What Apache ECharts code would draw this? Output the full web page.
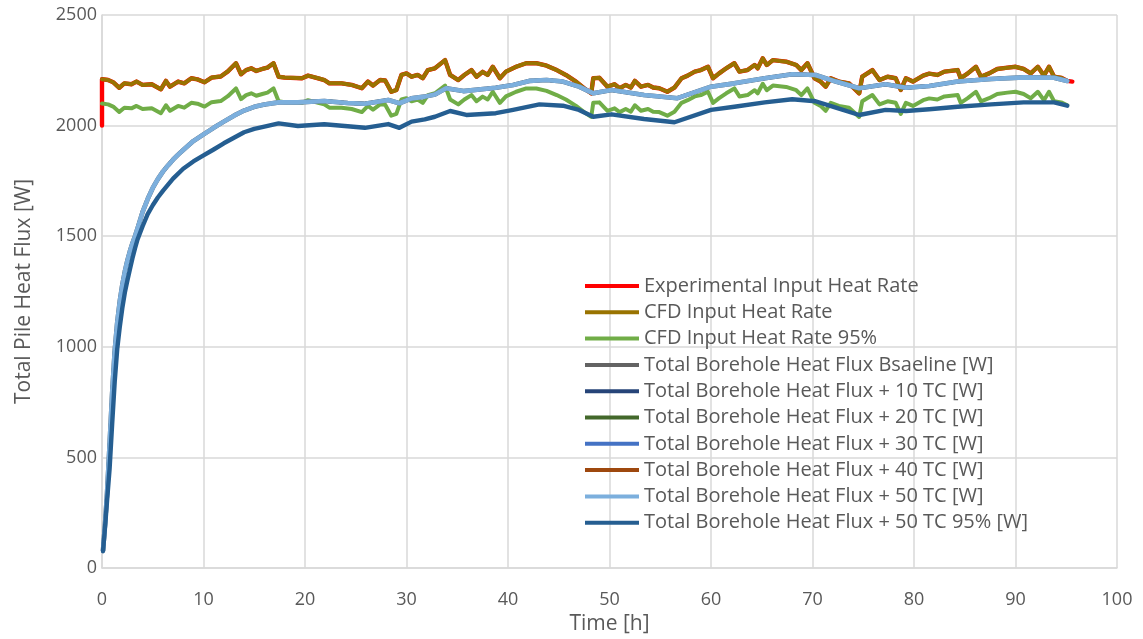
<!DOCTYPE html>
<html><head><meta charset="utf-8">
<script src="https://cdn.jsdelivr.net/npm/echarts@6/dist/echarts.min.js"></script>
<style>html,body{margin:0;padding:0;background:#fff}#c{width:1143px;height:639px}</style>
</head><body><div id="c"></div>
<script>
// ---- data ----
const inputTime = [0.0,0.6,1.1,1.7,2.2,2.9,3.4,4.0,4.9,5.8,6.3,6.7,7.5,8.1,8.8,9.4,10.1,10.8,11.7,12.4,13.2,13.7,14.2,14.7,15.2,15.8,16.3,16.9,17.4,18.0,19.7,20.3,21.3,21.9,22.4,23.6,24.6,25.6,26.2,26.7,27.4,27.9,28.5,29.0,29.5,30.0,30.5,31.1,31.6,32.1,32.8,33.8,34.3,35.1,35.7,36.4,36.9,37.5,38.0,38.5,39.2,39.8,40.8,41.8,42.8,43.8,44.8,45.7,46.7,47.5,48.2,48.4,49.0,49.8,50.5,51.0,51.6,52.1,52.5,53.1,53.8,54.3,54.9,55.7,56.4,57.1,57.7,58.4,59.0,59.7,60.2,60.8,61.5,62.3,62.8,63.6,64.3,64.6,65.1,65.5,66.1,67.4,68.4,68.9,69.5,70.2,70.8,71.3,71.8,72.6,73.6,74.6,74.9,75.9,76.6,77.4,78.2,78.7,79.2,79.9,80.9,81.5,82.3,83.0,84.3,84.6,85.3,86.1,86.6,87.4,88.2,89.2,90.0,90.8,91.5,92.2,92.8,93.3,93.8,94.5,95.1];
const cfdInputRate = [2210,2206,2196,2171,2191,2187,2199,2184,2187,2164,2202,2176,2199,2191,2214,2209,2196,2217,2222,2245,2282,2232,2251,2259,2247,2256,2262,2282,2221,2217,2214,2226,2214,2206,2191,2191,2184,2169,2199,2181,2206,2204,2153,2161,2229,2236,2221,2229,2214,2251,2259,2296,2229,2206,2229,2251,2221,2243,2229,2266,2214,2244,2266,2282,2282,2271,2251,2229,2199,2169,2146,2214,2216,2176,2187,2169,2184,2172,2202,2176,2184,2172,2169,2153,2172,2214,2226,2244,2251,2266,2214,2236,2259,2282,2244,2251,2274,2259,2304,2274,2296,2289,2274,2251,2282,2214,2199,2176,2214,2199,2191,2146,2221,2251,2206,2221,2214,2161,2214,2199,2226,2235,2229,2244,2251,2214,2236,2266,2221,2236,2256,2262,2266,2256,2236,2266,2226,2266,2221,2216,2202];
const cfdInputRate95 = [2100,2096,2086,2062,2081,2078,2089,2075,2078,2056,2092,2067,2089,2081,2103,2099,2086,2106,2111,2133,2168,2120,2138,2146,2135,2143,2149,2168,2110,2106,2103,2115,2103,2096,2081,2081,2075,2061,2089,2072,2096,2094,2045,2053,2118,2124,2110,2118,2103,2138,2146,2181,2118,2096,2118,2138,2110,2131,2118,2153,2103,2132,2153,2168,2168,2157,2138,2118,2089,2061,2039,2103,2105,2067,2078,2061,2075,2063,2092,2067,2075,2063,2061,2045,2063,2103,2115,2132,2138,2153,2103,2124,2146,2168,2132,2138,2160,2146,2189,2160,2181,2175,2160,2138,2168,2103,2089,2067,2103,2089,2081,2039,2110,2138,2096,2110,2103,2053,2103,2089,2115,2123,2118,2132,2138,2103,2124,2153,2110,2124,2143,2149,2153,2143,2124,2153,2115,2153,2110,2105,2092];
// experimental input: same trace plus a start value and a slightly later end
const expStart = [0.0, 2000];
const expEnd = [95.6, 2199];

const fluxTime = [0.1,0.3,0.5,0.75,1.0,1.25,1.5,1.75,2.0,2.25,2.5,2.75,3.0,3.25,3.5,4.0,4.5,5.0,5.5,6.0,6.5,7.0,7.5,8.0,9.0,10.0,11.0,12.0,13.0,14.0,15.0,16.0,17.4,19.3,21.9,24.2,25.9,28.2,29.3,30.5,31.8,32.8,33.9,35.6,38.8,40.5,42.1,43.8,45.4,47.0,48.4,50.2,53.4,56.7,60.0,62.3,65.3,68.0,70.3,72.3,74.6,77.2,79.2,81.5,84.3,87.6,90.8,93.8,95.1];
const fluxTC = [80,200,340,560,790,980,1110,1205,1280,1340,1390,1432,1468,1500,1535,1610,1668,1718,1758,1792,1820,1846,1869,1890,1930,1960,1990,2018,2045,2068,2085,2095,2105,2105,2111,2102,2099,2116,2101,2123,2131,2141,2169,2156,2171,2184,2202,2206,2199,2176,2146,2161,2138,2124,2176,2191,2214,2232,2229,2199,2169,2187,2171,2179,2199,2211,2218,2216,2202];

const flux95Time = [0.1,0.3,0.5,0.75,1.0,1.25,1.5,1.75,2.0,2.25,2.5,2.75,3.0,3.25,3.5,4.0,4.5,5.0,5.5,6.0,7.0,8.0,9.0,10.0,11.0,12.0,13.0,14.0,15.0,16.0,17.4,19.3,21.9,24.2,25.9,28.2,29.3,30.5,31.8,32.8,34.3,35.9,38.8,40.5,43.1,45.4,47.0,48.4,50.2,53.4,56.4,60.0,62.3,65.3,68.0,70.3,72.3,74.6,77.2,79.2,81.5,84.3,87.6,90.8,93.8,95.1];
const flux50TC95 = [76,185,305,450,650,840,990,1090,1175,1245,1300,1350,1400,1445,1485,1545,1600,1640,1675,1705,1760,1805,1838,1865,1892,1920,1945,1970,1985,1995,2010,1998,2006,1997,1990,2007,1990,2018,2028,2040,2066,2048,2056,2071,2096,2090,2071,2040,2051,2030,2015,2071,2085,2105,2119,2110,2081,2048,2071,2066,2074,2085,2096,2105,2105,2090];

const seriesNames = ['Experimental Input Heat Rate','CFD Input Heat Rate','CFD Input Heat Rate 95%','Total Borehole Heat Flux Bsaeline [W]','Total Borehole Heat Flux + 10 TC [W]','Total Borehole Heat Flux + 20 TC [W]','Total Borehole Heat Flux + 30 TC [W]','Total Borehole Heat Flux + 40 TC [W]','Total Borehole Heat Flux + 50 TC [W]','Total Borehole Heat Flux + 50 TC 95% [W]'];
const seriesColors = ['#FF0000','#997300','#70AD47','#636363','#264478','#43682B','#4472C4','#9E480E','#7CAFDD','#255E91'];
const xTicks = {min:0, max:100, interval:10};
const yTicks = {min:0, max:2500, interval:500};

// ---- build ----
const zip = (t, v) => t.map((x, i) => [x, v[i]]);
const inputPts = zip(inputTime, cfdInputRate);
const dataSets = [
  [expStart].concat(inputPts, [expEnd]),
  inputPts,
  zip(inputTime, cfdInputRate95),
  zip(fluxTime, fluxTC),
  zip(fluxTime, fluxTC),
  zip(fluxTime, fluxTC),
  zip(fluxTime, fluxTC),
  zip(fluxTime, fluxTC),
  zip(fluxTime, fluxTC),
  zip(flux95Time, flux50TC95)
];
const widths = [4.4,4.0,4.0,4.6,3.4,3.4,3.4,3.4,4.6,4.4];

const FONT = '"Open Sans", "Noto Sans", sans-serif';
const chart = echarts.init(document.getElementById('c'), null, {renderer:'canvas'});
chart.setOption({
  animation:false,
  backgroundColor:'#fff',
  grid:{left:102, right:26, top:15, bottom:71, containLabel:false, outerBoundsMode:'none'},
  xAxis:{type:'value', min:xTicks.min, max:xTicks.max, interval:xTicks.interval,
    name:'Time [h]', nameLocation:'middle', nameGap:44,
    nameTextStyle:{fontFamily:FONT, fontSize:21, color:'#595959'},
    axisLine:{show:true, lineStyle:{color:'#d9d9d9', width:1.5}},
    axisTick:{show:false},
    axisLabel:{fontFamily:FONT, fontSize:18, color:'#595959', margin:23, formatter:v => String(v)},
    splitLine:{show:true, lineStyle:{color:'#d9d9d9', width:1.5}}},
  yAxis:{type:'value', min:yTicks.min, max:yTicks.max, interval:yTicks.interval,
    name:'Total Pile Heat Flux [W]', nameLocation:'middle', nameGap:67,
    nameTextStyle:{fontFamily:FONT, fontSize:21, color:'#595959'},
    axisLine:{show:true, lineStyle:{color:'#d9d9d9', width:1.5}},
    axisTick:{show:false},
    axisLabel:{fontFamily:FONT, fontSize:18, color:'#595959', margin:5, formatter:v => String(v)},
    splitLine:{show:true, lineStyle:{color:'#d9d9d9', width:1.5}}},
  legend:{orient:'vertical', left:580, top:271, icon:'rect', itemWidth:54, itemHeight:4,
    itemGap:6.3, data:seriesNames,
    textStyle:{fontFamily:FONT, fontSize:20, color:'#595959', lineHeight:20}},
  series: seriesNames.map((n, i) => ({
    name:n, type:'line', data:dataSets[i], showSymbol:false, symbol:'none',
    color:seriesColors[i],
    lineStyle:{color:seriesColors[i], width:widths[i], join:'round', cap:'round'}
  }))
});
</script></body></html>
